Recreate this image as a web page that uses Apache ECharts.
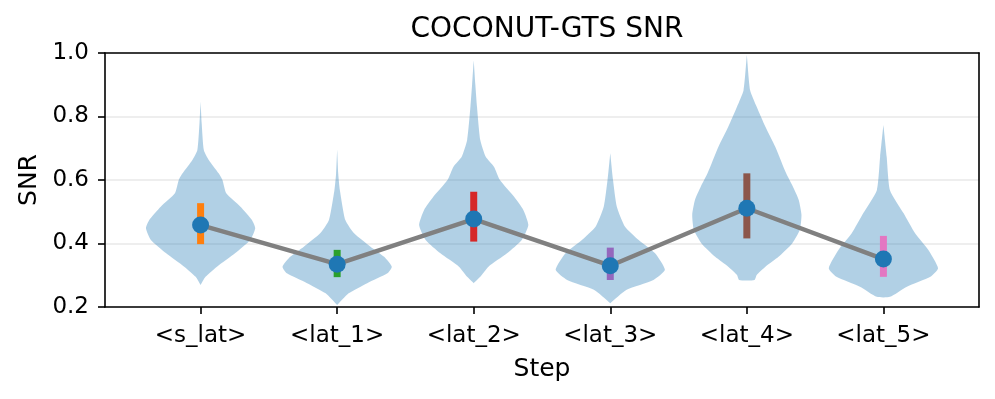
<!DOCTYPE html>
<html>
<head>
<meta charset="utf-8">
<script src="https://cdn.jsdelivr.net/npm/echarts@6/dist/echarts.min.js"></script>
<style>
  html, body { margin: 0; padding: 0; background: #fff; }
  #chart { width: 995px; height: 399px; }
</style>
</head>
<body>
<div id="chart"></div>
<script>
const steps = ['<s_lat>', '<lat_1>', '<lat_2>', '<lat_3>', '<lat_4>', '<lat_5>']
const meanSNR = [0.458, 0.335, 0.477, 0.330, 0.511, 0.351]
const q1SNR = [0.398, 0.294, 0.406, 0.285, 0.416, 0.295]
const q3SNR = [0.527, 0.380, 0.563, 0.387, 0.621, 0.424]
const iqrColors = ['#ff7f0e', '#2ca02c', '#d62728', '#9467bd', '#8c564b', '#e377c2']
const yTicks = [0.2, 0.4, 0.6, 0.8, 1.0]

// violin outlines: SNR levels (top -> bottom) and relative density at each level
const violinLevels = [
  [0.847, 0.779, 0.694, 0.663, 0.621, 0.600, 0.558, 0.516, 0.474, 0.448, 0.411, 0.369, 0.327, 0.295, 0.269],
  [0.697, 0.62, 0.568, 0.474, 0.432, 0.390, 0.358, 0.327, 0.306, 0.275, 0.243, 0.206],
  [0.976, 0.90, 0.831, 0.726, 0.673, 0.642, 0.600, 0.547, 0.505, 0.458, 0.411, 0.369, 0.327, 0.295, 0.275],
  [0.684, 0.600, 0.516, 0.453, 0.411, 0.369, 0.317, 0.285, 0.254, 0.212],
  [0.994, 0.883, 0.831, 0.768, 0.705, 0.621, 0.580, 0.537, 0.490, 0.443, 0.400, 0.358, 0.327, 0.301, 0.285],
  [0.773, 0.673, 0.568, 0.495, 0.432, 0.380, 0.322, 0.295, 0.264, 0.232]
]
const violinDensity = [
  [0, 0.02, 0.06, 0.15, 0.33, 0.40, 0.47, 0.73, 0.94, 1.0, 0.91, 0.63, 0.30, 0.09, 0],
  [0, 0.02, 0.05, 0.15, 0.31, 0.61, 0.86, 1.0, 0.92, 0.55, 0.21, 0],
  [0, 0.03, 0.06, 0.12, 0.22, 0.37, 0.48, 0.74, 0.91, 1.0, 0.88, 0.61, 0.27, 0.12, 0],
  [0, 0.05, 0.12, 0.27, 0.52, 0.82, 1.0, 0.79, 0.30, 0],
  [0, 0.06, 0.18, 0.34, 0.52, 0.72, 0.84, 0.95, 1.0, 0.97, 0.83, 0.58, 0.34, 0.18, 0.14],
  [0, 0.06, 0.12, 0.37, 0.58, 0.82, 1.0, 0.86, 0.43, 0.12]
]
const halfWidth = 0.4

const font = 'DejaVu Sans'
const positions = steps.map((s, i) => i + 1)

const chart = echarts.init(document.getElementById('chart'), null, { renderer: 'canvas' })

const renderViolin = (params, api) => {
  const i = params.dataIndex
  const x = api.value(0)
  const lv = violinLevels[i]
  const dn = violinDensity[i]
  const right = lv.map((y, k) => api.coord([x + dn[k] * halfWidth, y]))
  const left = lv.map((y, k) => api.coord([x - dn[k] * halfWidth, y])).reverse()
  return {
    type: 'polygon',
    shape: { points: right.concat(left), smooth: 0.18 },
    style: { fill: 'rgba(31,119,180,0.35)' }
  }
}

const renderIqr = (params, api) => {
  const i = params.dataIndex
  const top = api.coord([api.value(0), api.value(2)])
  const bot = api.coord([api.value(0), api.value(1)])
  return {
    type: 'rect',
    shape: { x: top[0] - 3.5, y: top[1], width: 7, height: bot[1] - top[1] },
    style: { fill: iqrColors[i] }
  }
}

const frameLine = { show: true, onZero: false, lineStyle: { color: '#000', width: 1.6 } }

const option = {
  animation: false,
  title: {
    text: 'COCONUT-GTS SNR',
    left: 542,
    textAlign: 'center',
    top: 11,
    textStyle: { fontFamily: font, fontSize: 28, fontWeight: 'normal', color: '#000' }
  },
  grid: {
    left: 105,
    right: 16,
    top: 53,
    bottom: 92
  },
  xAxis: [
    {
      type: 'value',
      min: 0.3,
      max: 6.7,
      name: 'Step',
      nameLocation: 'middle',
      nameGap: 50,
      nameTextStyle: { fontFamily: font, fontSize: 25, color: '#000' },
      axisLine: frameLine,
      axisTick: { show: true, customValues: positions, length: 7, lineStyle: { color: '#000', width: 1.6 } },
      axisLabel: {
        customValues: positions,
        margin: 18,
        fontFamily: font,
        fontSize: 23,
        color: '#000',
        formatter: (v) => steps[Math.round(v) - 1]
      },
      splitLine: { show: false }
    },
    {
      type: 'value',
      position: 'top',
      min: 0.3,
      max: 6.7,
      axisLine: frameLine,
      axisTick: { show: false },
      axisLabel: { show: false },
      splitLine: { show: false }
    }
  ],
  yAxis: [
    {
      type: 'value',
      min: 0.2,
      max: 1.0,
      interval: 0.2,
      name: 'SNR',
      nameLocation: 'middle',
      nameGap: 63,
      nameTextStyle: { fontFamily: font, fontSize: 25, color: '#000' },
      axisLine: frameLine,
      axisTick: { show: true, length: 7, lineStyle: { color: '#000', width: 1.6 } },
      axisLabel: {
        margin: 16,
        fontFamily: font,
        fontSize: 23,
        color: '#000',
        formatter: (v) => yTicks.includes(+v.toFixed(1)) ? v.toFixed(1) : ''
      },
      splitLine: { show: true, lineStyle: { color: '#e8e8e8', width: 1.5 } }
    },
    {
      type: 'value',
      position: 'right',
      min: 0.2,
      max: 1.0,
      interval: 0.2,
      axisLine: frameLine,
      axisTick: { show: false },
      axisLabel: { show: false },
      splitLine: { show: false }
    }
  ],
  series: [
    {
      type: 'custom',
      renderItem: renderViolin,
      data: positions.map(p => [p]),
      encode: { x: 0 },
      clip: true,
      z: 2
    },
    {
      type: 'custom',
      renderItem: renderIqr,
      data: positions.map((p, i) => [p, q1SNR[i], q3SNR[i]]),
      encode: { x: 0, y: [1, 2] },
      z: 3
    },
    {
      type: 'line',
      data: positions.map((p, i) => [p, meanSNR[i]]),
      showSymbol: false,
      lineStyle: { color: '#808080', width: 4.5 },
      z: 4
    },
    {
      type: 'scatter',
      data: positions.map((p, i) => [p, meanSNR[i]]),
      symbol: 'circle',
      symbolSize: 17,
      itemStyle: { color: '#1f77b4', opacity: 1 },
      z: 5
    }
  ]
}

chart.setOption(option)
</script>
</body>
</html>
